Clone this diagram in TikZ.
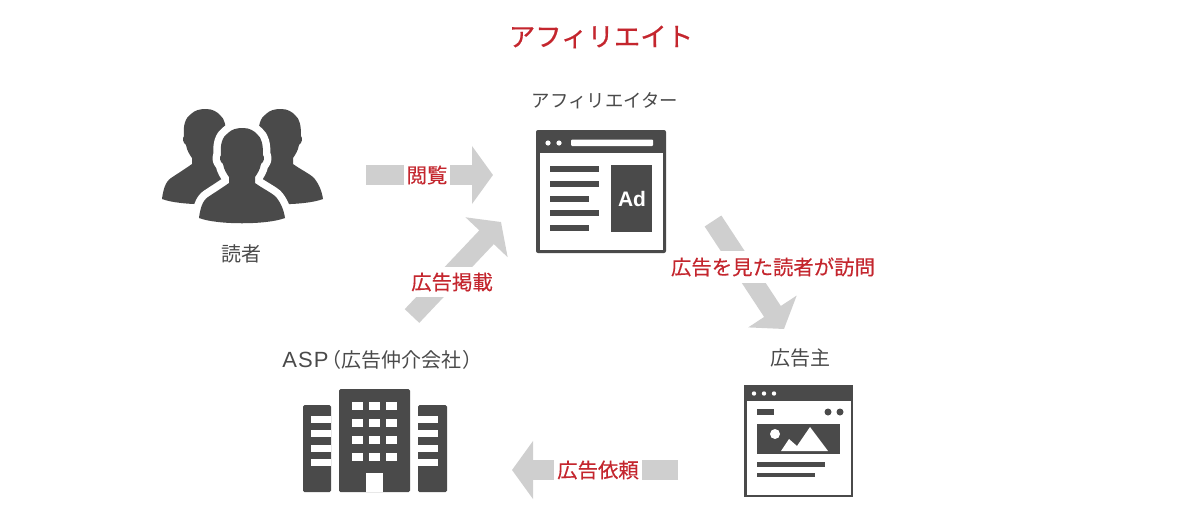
\documentclass[tikz,border=0pt]{standalone}
\usepackage{xcolor}
\usepackage{fontspec}
\usetikzlibrary{arrows.meta}
\setmainfont{Noto Sans CJK JP}
\newfontfamily\adfont{Liberation Sans}
\newfontfamily\redfont[FakeBold=0.25]{Noto Sans CJK JP}
\newfontfamily\titlefont[FakeBold=0.7]{Noto Sans CJK JP}
\definecolor{icondark}{HTML}{4A4A4A}
\definecolor{labelred}{HTML}{C4262E}
\definecolor{flowgray}{HTML}{CFCFCF}
\newcommand{\personshape}{(1,0) .. controls (8,0) and (12,3) .. (15,6) .. controls (20,10) and (21,17) .. (21,27)
    .. controls (23,29) and (22,34) .. (19,36) .. controls (18,42) and (15,46) .. (13,49) -- (13,55)
    .. controls (20,60) and (28,64) .. (33,68) .. controls (38,73) and (42,82) .. (43,90)
    .. controls (25,97) and (-25,97) .. (-43,90) .. controls (-42,82) and (-40,73) .. (-34,69)
    .. controls (-28,65) and (-20,60) .. (-13,55) -- (-13,49) .. controls (-15,46) and (-18,42) .. (-19,36)
    .. controls (-22,34) and (-23,29) .. (-21,27) .. controls (-22,17) and (-20,9) .. (-14,5)
    .. controls (-10,1) and (-5,0) .. (1,0) -- cycle}
\begin{document}
\begin{tikzpicture}[x=1pt, y=-1pt, >=stealth,
    iconfill/.style={fill=icondark, draw=none},
    hole/.style={fill=white, draw=none},
    caption/.style={text=icondark, font=\fontsize{20}{20}\selectfont, inner sep=0pt},
    flowlabel/.style={text=labelred, fill=white, font=\redfont\fontsize{20.4}{20.4}\selectfont, inner xsep=3pt, inner ysep=6pt},
    flow/.style={draw=flowgray, line width=20pt, -{Triangle[length=21pt, width=57pt]}}]
    \useasboundingbox (0,0) rectangle (1200,520);

    \node[text=labelred, font=\titlefont\fontsize{26.4}{26.4}\selectfont, inner sep=0pt] (title) at (601,37) {アフィリエイト};

    % readers
    \begin{scope}[shift={(205,109)}] \fill[icondark] \personshape; \end{scope}
    \begin{scope}[shift={(280,109)}] \fill[icondark] \personshape; \end{scope}
    \begin{scope}[shift={(242,128)}]
        \draw[white, line width=15pt, line join=round] \personshape;
        \fill[icondark] \personshape;
    \end{scope}
    \node[caption] (reader) at (241,254) {読者};

    % affiliate page
    \node[caption, font=\fontsize{18.4}{18.4}\selectfont] (affiliate) at (605,101) {アフィリエイター};
    \fill[iconfill, rounded corners=2pt] (536,130) rectangle (666,253);
    \fill[hole] (539.5,153) rectangle (662.5,249.5);
    \foreach \x in {548,559} \fill[hole] (\x,143) circle (2.6);
    \fill[hole, rounded corners=1pt] (571,139.5) rectangle (653,146);
    \foreach \y/\w in {166/599,181/599,196/589,210/599,225/589}
        \fill[iconfill] (550,\y) rectangle (\w,\y+5.5);
    \fill[iconfill] (611,165) rectangle (652,232);
    \node[text=white, font=\adfont\bfseries\fontsize{21}{21}\selectfont, inner sep=0pt] (ad) at (632,199) {Ad};

    % advertiser page
    \node[caption] (advertiser) at (800,358) {広告主};
    \fill[iconfill] (744,385) rectangle (853,497);
    \fill[hole] (746.5,401) rectangle (850.5,494.5);
    \foreach \x in {754,764,774} \fill[hole] (\x,393.5) circle (2.2);
    \fill[iconfill] (757,409) rectangle (774,415);
    \foreach \x in {828,840} \fill[iconfill] (\x,412) circle (3.5);
    \fill[iconfill] (757,424) rectangle (840,454);
    \fill[hole] (775,434) circle (5);
    \fill[hole] (781,451) -- (789,439) -- (797,446) -- (810,427) -- (828,451) -- cycle;
    \fill[iconfill] (757,462) rectangle (825,467);
    \fill[iconfill] (757,472.5) rectangle (815,477);

    % asp building
    \node[caption] (asp) at (379,360) {{\adfont\fontsize{22}{22}\selectfont A\kern1pt S\kern1pt P}\kern-7pt（広告仲介会社\kern1pt）\kern-7pt};
    \fill[iconfill, rounded corners=1.5pt] (339,389) rectangle (410,492);
    \foreach \x in {352,369,386} \foreach \y in {402,419,436,453}
        \fill[hole] (\x,\y) rectangle (\x+11,\y+8);
    \fill[hole] (366,473) rectangle (383,492);
    \fill[iconfill, rounded corners=1.5pt] (303,405) rectangle (331,492);
    \fill[iconfill, rounded corners=1.5pt] (418,405) rectangle (447,492);
    \foreach \y in {416,430,445,459} {
        \fill[hole] (311,\y) rectangle (331,\y+6.5);
        \fill[hole] (418,\y) rectangle (438,\y+6.5);
    }

    % flows
    \coordinate (readstart) at (366,175);
    \coordinate (readend) at (493,175);
    \coordinate (poststart) at (412,316);
    \coordinate (postend) at (501,222);
    \coordinate (visitstart) at (713,221);
    \coordinate (visitend) at (784,329);
    \coordinate (askstart) at (678,470);
    \coordinate (askend) at (512,470);
    \draw[flow] (readstart) -- (readend);
    \draw[flow] (poststart) -- (postend);
    \draw[flow] (visitstart) -- (visitend);
    \draw[flow] (askstart) -- (askend);

    \node[flowlabel] (readlabel) at (427,175) {閲覧};
    \node[flowlabel] (postlabel) at (452,282) {広告掲載};
    \node[flowlabel] (visitlabel) at (773,267) {広告を見た読者が訪問};
    \node[flowlabel] (asklabel) at (598,470) {広告依頼};
\end{tikzpicture}
\end{document}
